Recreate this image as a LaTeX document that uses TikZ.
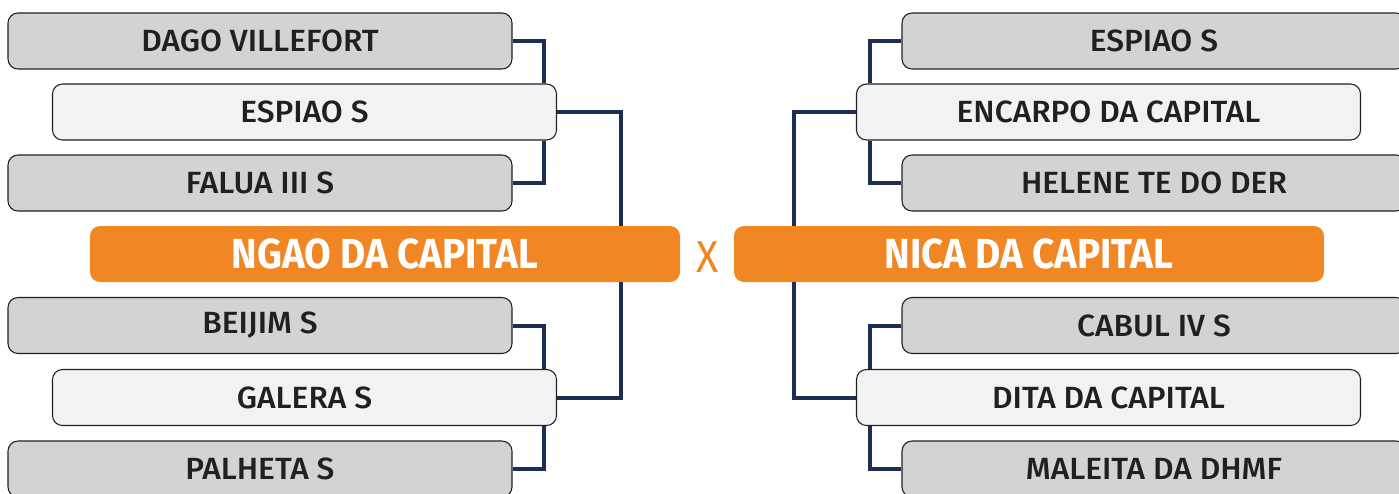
\documentclass[tikz,border=0pt]{standalone}
\usepackage{fontspec}
\setmainfont{Fira Sans}
\newfontfamily\labelfont{Fira Sans Medium}[FakeStretch=1.035]
\newfontfamily\titlefont{Fira Sans}[FakeStretch=0.92]

\tikzset{
  horse/.style={draw={rgb, 255:red, 35; green, 31; blue, 32 }, line width=0.8pt, rounded corners=7.5pt,
    fill={rgb, 255:red, 209; green, 211; blue, 212 }, minimum width=378pt, minimum height=42pt, inner sep=0pt,
    text={rgb, 255:red, 35; green, 31; blue, 32 }, font=\labelfont\fontsize{23}{23}\selectfont},
  winner/.style={horse, fill={rgb, 255:red, 241; green, 242; blue, 243 }},
  final/.style={rounded corners=7.5pt, fill={rgb, 255:red, 241; green, 135; blue, 36 }, minimum width=442.5pt,
    minimum height=42pt, inner sep=0pt, text=white, font=\titlefont\bfseries\fontsize{31.5}{31.5}\selectfont},
  link/.style={draw={rgb, 255:red, 28; green, 46; blue, 84 }, line width=3pt}
}

\begin{document}
\begin{tikzpicture}[x=0.75pt,y=0.75pt,yscale=-1,xscale=1]
\useasboundingbox (0,0) rectangle (1399,493);
\clip (0,0) rectangle (1399,493);

% Left bracket
\node [horse] (dago) at (260,41) {DAGO VILLEFORT};
\node [winner] (espiaoL) at (304.5,112) {ESPIAO S};
\node [horse] (falua) at (260,183) {FALUA III S};
\node [final] (ngao) at (385,254) {NGAO DA CAPITAL};
\node [horse] (beijim) at (260,325.5) {BEIJIM S};
\node [winner] (galera) at (304.5,397.5) {GALERA S};
\node [horse] (palheta) at (260,469) {PALHETA S};

% Right bracket
\node [horse] (espiaoR) at (1154,41) {ESPIAO S};
\node [winner] (encarpo) at (1108.5,112) {ENCARPO DA CAPITAL};
\node [horse] (helene) at (1154,183) {HELENE TE DO DER};
\node [final] (nica) at (1029,254) {NICA DA CAPITAL};
\node [horse] (cabul) at (1154,325.5) {CABUL IV S};
\node [winner] (dita) at (1108.5,397.5) {DITA DA CAPITAL};
\node [horse] (maleita) at (1154,469) {MALEITA DA DHMF};

% Versus
\node [text={rgb, 255:red, 241; green, 135; blue, 36 }, font=\titlefont\fontsize{33.5}{33.5}\selectfont, inner sep=0pt] (vs) at (707.5,257) {X};

% Connectors left
\draw [link] (dago.east) -- ++(31,0) coordinate (jA) -- (jA |- espiaoL.north);
\draw [link] (falua.east) -- ++(31,0) coordinate (jB) -- (jB |- espiaoL.south);
\draw [link] (espiaoL.east) -- ++(64,0) coordinate (jC) -- (jC |- ngao.north);
\draw [link] (beijim.east) -- ++(31,0) coordinate (jD) -- (jD |- galera.north);
\draw [link] (palheta.east) -- ++(31,0) coordinate (jE) -- (jE |- galera.south);
\draw [link] (galera.east) -- ++(64,0) coordinate (jF) -- (jF |- ngao.south);

% Connectors right
\draw [link] (espiaoR.west) -- ++(-31,0) coordinate (kA) -- (kA |- encarpo.north);
\draw [link] (helene.west) -- ++(-31,0) coordinate (kB) -- (kB |- encarpo.south);
\draw [link] (encarpo.west) -- ++(-62,0) coordinate (kC) -- (kC |- nica.north);
\draw [link] (cabul.west) -- ++(-31,0) coordinate (kD) -- (kD |- dita.north);
\draw [link] (maleita.west) -- ++(-31,0) coordinate (kE) -- (kE |- dita.south);
\draw [link] (dita.west) -- ++(-62,0) coordinate (kF) -- (kF |- nica.south);
\end{tikzpicture}
\end{document}
